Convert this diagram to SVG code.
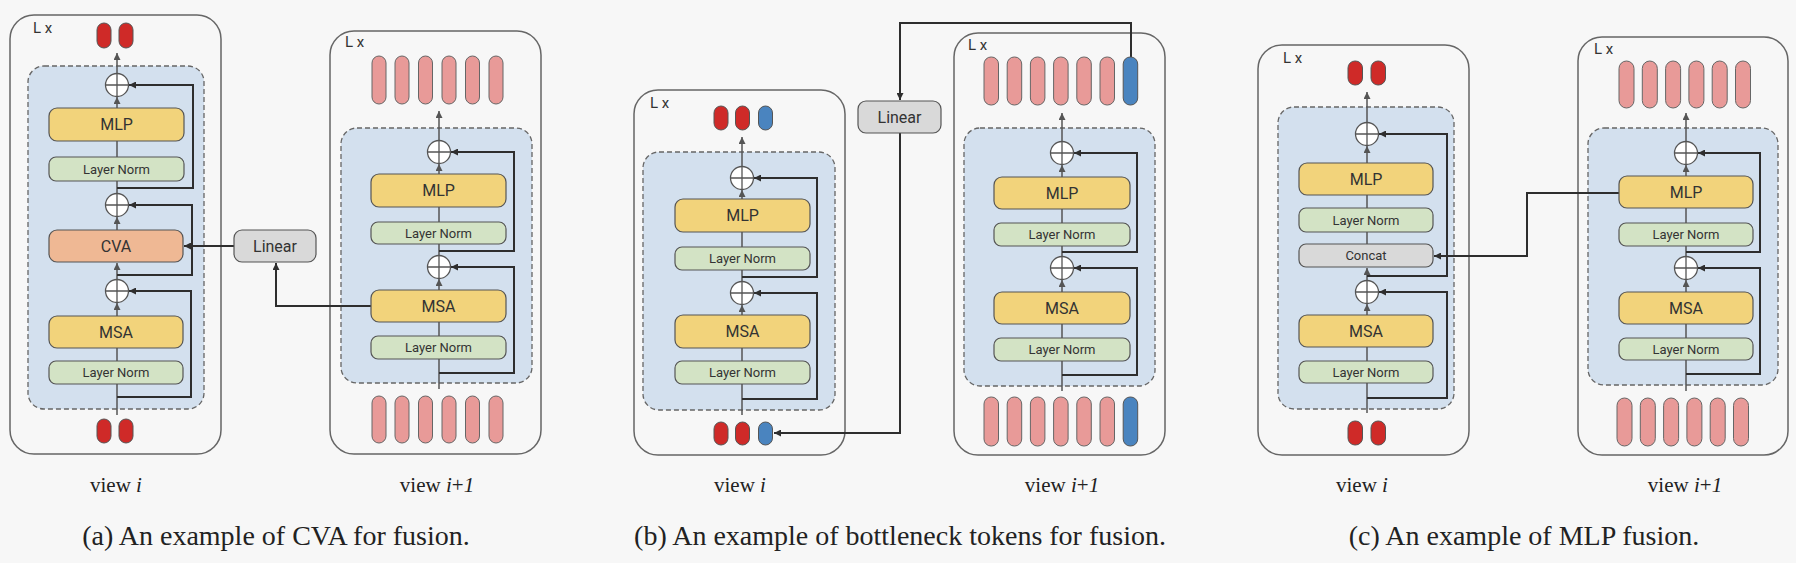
<svg xmlns="http://www.w3.org/2000/svg" width="1796" height="563" viewBox="0 0 1796 563">
<style>
.outer{fill:none;stroke:#666;stroke-width:1.5}
.inner{fill:#d3e0ee;stroke:#666;stroke-width:1.3;stroke-dasharray:5 3}
.mod{stroke:#555;stroke-width:1.2}
.y{fill:#f2d37b}
.g{fill:#d3e3c5}
.o{fill:#efb894}
.gr{fill:#d9d9d9}
.red{fill:#cf2a28;stroke:#555;stroke-width:1}
.pink{fill:#e89a98;stroke:#666;stroke-width:1}
.blue{fill:#4a84bf;stroke:#555;stroke-width:1}
.lbl{font-family:Roboto,"Liberation Sans",sans-serif;fill:#333;text-anchor:middle;dominant-baseline:central}
.big{font-size:16px}
.sm{font-size:13px}
.lx{font-family:Roboto,"Liberation Sans",sans-serif;fill:#333;font-size:15px}
.cap{font-family:"Liberation Serif",serif;fill:#222;text-anchor:middle}
.main{fill:none;stroke:#555;stroke-width:1.5;marker-end:url(#ah)}
.skip{fill:none;stroke:#2e2e2e;stroke-width:2;marker-end:url(#ahd)}
</style>
<defs>
<marker id="ah" viewBox="0 0 10 10" refX="10" refY="5" markerWidth="7" markerHeight="7" orient="auto" markerUnits="userSpaceOnUse"><path d="M0,0 L10,5 L0,10 z" fill="#555"/></marker>
<marker id="ahd" viewBox="0 0 10 10" refX="10" refY="5" markerWidth="7" markerHeight="7" orient="auto" markerUnits="userSpaceOnUse"><path d="M0,0 L10,5 L0,10 z" fill="#2e2e2e"/></marker>
<g id="plus"><circle cx="0" cy="0" r="11.5" fill="#fff" stroke="#555" stroke-width="1.3"/><path d="M-11.5,0H11.5M0,-11.5V11.5" stroke="#555" stroke-width="1.3"/></g>
</defs>
<rect width="1796" height="563" fill="#f7f7f7"/>

<!-- containers -->
<g id="panel-a-left">
<rect class="outer" x="10" y="15" width="211" height="439" rx="24"/>
<text class="lx" x="33" y="33">L x</text>
<rect class="inner" x="28" y="66" width="176" height="343" rx="16"/>
</g>
<g id="panel-a-right">
<rect class="outer" x="330" y="31" width="211" height="423" rx="24"/>
<text class="lx" x="345" y="47">L x</text>
<rect class="inner" x="341" y="128" width="191" height="255" rx="16"/>
</g>
<g id="panel-b-left">
<rect class="outer" x="634" y="90" width="211" height="365" rx="24"/>
<text class="lx" x="650" y="108">L x</text>
<rect class="inner" x="643" y="152" width="192" height="258" rx="16"/>
</g>
<g id="panel-b-right">
<rect class="outer" x="954" y="33" width="211" height="422" rx="24"/>
<text class="lx" x="968" y="50">L x</text>
<rect class="inner" x="964" y="128" width="191" height="258" rx="16"/>
</g>
<g id="panel-c-left">
<rect class="outer" x="1258" y="45" width="211" height="410" rx="24"/>
<text class="lx" x="1283" y="63">L x</text>
<rect class="inner" x="1278" y="107" width="176" height="302" rx="16"/>
</g>
<g id="panel-c-right">
<rect class="outer" x="1578" y="37" width="210" height="418" rx="24"/>
<text class="lx" x="1594" y="54">L x</text>
<rect class="inner" x="1588" y="128" width="190" height="257" rx="16"/>
</g>

<g id="connectors">
<!-- a left -->
<path class="main" d="M117,415V303"/>
<path class="main" d="M117,280V263"/>
<path class="main" d="M117,230V217"/>
<path class="main" d="M117,194V97"/>
<path class="main" d="M117,74V53"/>
<path class="skip" d="M117,397H191V291H129"/>
<path class="skip" d="M117,275H192V205H129"/>
<path class="skip" d="M117,188H193V85H129"/>
<!-- a right -->
<path class="main" d="M439,389V279"/>
<path class="main" d="M439,256V164"/>
<path class="main" d="M439,141V111"/>
<path class="skip" d="M439,373H514V267H451"/>
<path class="skip" d="M439,251H514V152H451"/>
<path class="skip" d="M371,306H276V263"/>
<path class="skip" d="M234,246H184"/>
<!-- b left -->
<path class="main" d="M742,415V305"/>
<path class="main" d="M742,282V190"/>
<path class="main" d="M742,167V137"/>
<path class="skip" d="M742,399H817V293H754"/>
<path class="skip" d="M742,277H817V178H754"/>
<!-- b right -->
<path class="main" d="M1062,391V280"/>
<path class="main" d="M1062,257V165"/>
<path class="main" d="M1062,142V113"/>
<path class="skip" d="M1062,375H1137V268H1074"/>
<path class="skip" d="M1062,252H1137V153H1074"/>
<path class="skip" d="M1131,57V23H900V100"/>
<path class="skip" d="M900,133V433H774"/>
<!-- c left -->
<path class="main" d="M1367,413V304"/>
<path class="main" d="M1367,281V268"/>
<path class="main" d="M1367,244V146"/>
<path class="main" d="M1367,123V92"/>
<path class="skip" d="M1367,398H1447V292H1379"/>
<path class="skip" d="M1367,276H1447V134H1379"/>
<!-- c right -->
<path class="main" d="M1686,391V280"/>
<path class="main" d="M1686,257V165"/>
<path class="main" d="M1686,142V113"/>
<path class="skip" d="M1686,374H1760V268H1698"/>
<path class="skip" d="M1686,252H1760V153H1698"/>
<path class="skip" d="M1619,193H1527V256H1434"/>
</g>

<!-- panel a left nodes -->
<g id="a-tokens-out"><rect class="red" x="97" y="23" width="14" height="25" rx="7"/><rect class="red" x="119" y="23" width="14" height="25" rx="7"/></g>
<g id="a-add1"><use href="#plus" x="117" y="85"/></g>
<g id="a-mlp"><rect class="mod y" x="49" y="108" width="135" height="33" rx="8"/><text class="lbl big" x="116.5" y="124.5">MLP</text></g>
<g id="a-ln2"><rect class="mod g" x="49" y="157" width="135" height="24" rx="7"/><text class="lbl sm" x="116.5" y="169">Layer Norm</text></g>
<g id="a-add2"><use href="#plus" x="117" y="205"/></g>
<g id="a-cva"><rect class="mod o" x="49" y="230" width="134" height="32" rx="8"/><text class="lbl big" x="116" y="246">CVA</text></g>
<g id="a-add3"><use href="#plus" x="117" y="291"/></g>
<g id="a-msa"><rect class="mod y" x="49" y="316" width="134" height="32" rx="8"/><text class="lbl big" x="116" y="332">MSA</text></g>
<g id="a-ln1"><rect class="mod g" x="49" y="361" width="134" height="23" rx="7"/><text class="lbl sm" x="116" y="372.5">Layer Norm</text></g>
<g id="a-tokens-in"><rect class="red" x="97" y="419" width="14" height="24" rx="7"/><rect class="red" x="119" y="419" width="14" height="24" rx="7"/></g>
<g id="a-linear"><rect class="mod gr" x="234" y="230" width="82" height="32" rx="8"/><text class="lbl big" x="275" y="246">Linear</text></g>

<!-- panel a right nodes -->
<g id="ar-tokens-out"><rect class="pink" x="372" y="56" width="14" height="48" rx="7"/><rect class="pink" x="395" y="56" width="14" height="48" rx="7"/><rect class="pink" x="418.5" y="56" width="14" height="48" rx="7"/><rect class="pink" x="442" y="56" width="14" height="48" rx="7"/><rect class="pink" x="465.5" y="56" width="14" height="48" rx="7"/><rect class="pink" x="489" y="56" width="14" height="48" rx="7"/></g>
<g id="ar-add1"><use href="#plus" x="439" y="152"/></g>
<g id="ar-mlp"><rect class="mod y" x="371" y="174" width="135" height="33" rx="8"/><text class="lbl big" x="438.5" y="190.5">MLP</text></g>
<g id="ar-ln2"><rect class="mod g" x="371" y="222" width="135" height="22" rx="7"/><text class="lbl sm" x="438.5" y="233">Layer Norm</text></g>
<g id="ar-add2"><use href="#plus" x="439" y="267"/></g>
<g id="ar-msa"><rect class="mod y" x="371" y="290" width="135" height="32" rx="8"/><text class="lbl big" x="438.5" y="306">MSA</text></g>
<g id="ar-ln1"><rect class="mod g" x="371" y="336" width="135" height="23" rx="7"/><text class="lbl sm" x="438.5" y="347.5">Layer Norm</text></g>
<g id="ar-tokens-in"><rect class="pink" x="372" y="396" width="14" height="47" rx="7"/><rect class="pink" x="395" y="396" width="14" height="47" rx="7"/><rect class="pink" x="418.5" y="396" width="14" height="47" rx="7"/><rect class="pink" x="442" y="396" width="14" height="47" rx="7"/><rect class="pink" x="465.5" y="396" width="14" height="47" rx="7"/><rect class="pink" x="489" y="396" width="14" height="47" rx="7"/></g>

<!-- panel b left nodes -->
<g id="b-tokens-out"><rect class="red" x="714" y="106" width="14" height="24" rx="7"/><rect class="red" x="735.5" y="106" width="14" height="24" rx="7"/><rect class="blue" x="758.5" y="106" width="14" height="24" rx="7"/></g>
<g id="b-add1"><use href="#plus" x="742" y="178"/></g>
<g id="b-mlp"><rect class="mod y" x="675" y="199" width="135" height="33" rx="8"/><text class="lbl big" x="742.5" y="215.5">MLP</text></g>
<g id="b-ln2"><rect class="mod g" x="675" y="247" width="135" height="23" rx="7"/><text class="lbl sm" x="742.5" y="258.5">Layer Norm</text></g>
<g id="b-add2"><use href="#plus" x="742" y="293"/></g>
<g id="b-msa"><rect class="mod y" x="675" y="315" width="135" height="33" rx="8"/><text class="lbl big" x="742.5" y="331.5">MSA</text></g>
<g id="b-ln1"><rect class="mod g" x="675" y="361" width="135" height="23" rx="7"/><text class="lbl sm" x="742.5" y="372.5">Layer Norm</text></g>
<g id="b-tokens-in"><rect class="red" x="714" y="422" width="14" height="23" rx="7"/><rect class="red" x="735.5" y="422" width="14" height="23" rx="7"/><rect class="blue" x="758.5" y="422" width="14" height="23" rx="7"/></g>
<g id="b-linear"><rect class="mod gr" x="858" y="101" width="83" height="32" rx="8"/><text class="lbl big" x="899.5" y="117">Linear</text></g>

<!-- panel b right nodes -->
<g id="br-tokens-out"><rect class="pink" x="984" y="57" width="14.5" height="48" rx="7"/><rect class="pink" x="1007.2" y="57" width="14.5" height="48" rx="7"/><rect class="pink" x="1030.4" y="57" width="14.5" height="48" rx="7"/><rect class="pink" x="1053.6" y="57" width="14.5" height="48" rx="7"/><rect class="pink" x="1076.8" y="57" width="14.5" height="48" rx="7"/><rect class="pink" x="1100" y="57" width="14.5" height="48" rx="7"/><rect class="blue" x="1123.2" y="57" width="14.5" height="48" rx="7"/></g>
<g id="br-add1"><use href="#plus" x="1062" y="153"/></g>
<g id="br-mlp"><rect class="mod y" x="994" y="177" width="136" height="32" rx="8"/><text class="lbl big" x="1062" y="193">MLP</text></g>
<g id="br-ln2"><rect class="mod g" x="994" y="223" width="136" height="23" rx="7"/><text class="lbl sm" x="1062" y="234.5">Layer Norm</text></g>
<g id="br-add2"><use href="#plus" x="1062" y="268"/></g>
<g id="br-msa"><rect class="mod y" x="994" y="292" width="136" height="32" rx="8"/><text class="lbl big" x="1062" y="308">MSA</text></g>
<g id="br-ln1"><rect class="mod g" x="994" y="338" width="136" height="23" rx="7"/><text class="lbl sm" x="1062" y="349.5">Layer Norm</text></g>
<g id="br-tokens-in"><rect class="pink" x="984" y="397" width="14.5" height="49" rx="7"/><rect class="pink" x="1007.2" y="397" width="14.5" height="49" rx="7"/><rect class="pink" x="1030.4" y="397" width="14.5" height="49" rx="7"/><rect class="pink" x="1053.6" y="397" width="14.5" height="49" rx="7"/><rect class="pink" x="1076.8" y="397" width="14.5" height="49" rx="7"/><rect class="pink" x="1100" y="397" width="14.5" height="49" rx="7"/><rect class="blue" x="1123.2" y="397" width="14.5" height="49" rx="7"/></g>

<!-- panel c left nodes -->
<g id="c-tokens-out"><rect class="red" x="1348" y="61" width="14.5" height="24" rx="7"/><rect class="red" x="1371" y="61" width="14.5" height="24" rx="7"/></g>
<g id="c-add1"><use href="#plus" x="1367" y="134"/></g>
<g id="c-mlp"><rect class="mod y" x="1299" y="163" width="134" height="32" rx="8"/><text class="lbl big" x="1366" y="179">MLP</text></g>
<g id="c-ln2"><rect class="mod g" x="1299" y="208" width="134" height="24" rx="7"/><text class="lbl sm" x="1366" y="220">Layer Norm</text></g>
<g id="c-concat"><rect class="mod gr" x="1299" y="244" width="134" height="23" rx="7"/><text class="lbl sm" x="1366" y="255.5">Concat</text></g>
<g id="c-add2"><use href="#plus" x="1367" y="292"/></g>
<g id="c-msa"><rect class="mod y" x="1299" y="315" width="134" height="32" rx="8"/><text class="lbl big" x="1366" y="331">MSA</text></g>
<g id="c-ln1"><rect class="mod g" x="1299" y="361" width="134" height="22" rx="7"/><text class="lbl sm" x="1366" y="372">Layer Norm</text></g>
<g id="c-tokens-in"><rect class="red" x="1348" y="421" width="14.5" height="24" rx="7"/><rect class="red" x="1371" y="421" width="14.5" height="24" rx="7"/></g>

<!-- panel c right nodes -->
<g id="cr-tokens-out"><rect class="pink" x="1619" y="61" width="15" height="47" rx="7.5"/><rect class="pink" x="1642.3" y="61" width="15" height="47" rx="7.5"/><rect class="pink" x="1665.6" y="61" width="15" height="47" rx="7.5"/><rect class="pink" x="1688.9" y="61" width="15" height="47" rx="7.5"/><rect class="pink" x="1712.2" y="61" width="15" height="47" rx="7.5"/><rect class="pink" x="1735.5" y="61" width="15" height="47" rx="7.5"/></g>
<g id="cr-add1"><use href="#plus" x="1686" y="153"/></g>
<g id="cr-mlp"><rect class="mod y" x="1619" y="176" width="134" height="32" rx="8"/><text class="lbl big" x="1686" y="192">MLP</text></g>
<g id="cr-ln2"><rect class="mod g" x="1619" y="223" width="134" height="23" rx="7"/><text class="lbl sm" x="1686" y="234.5">Layer Norm</text></g>
<g id="cr-add2"><use href="#plus" x="1686" y="268"/></g>
<g id="cr-msa"><rect class="mod y" x="1619" y="292" width="134" height="32" rx="8"/><text class="lbl big" x="1686" y="308">MSA</text></g>
<g id="cr-ln1"><rect class="mod g" x="1619" y="338" width="134" height="22" rx="7"/><text class="lbl sm" x="1686" y="349">Layer Norm</text></g>
<g id="cr-tokens-in"><rect class="pink" x="1617" y="398" width="15" height="48" rx="7.5"/><rect class="pink" x="1640.3" y="398" width="15" height="48" rx="7.5"/><rect class="pink" x="1663.6" y="398" width="15" height="48" rx="7.5"/><rect class="pink" x="1686.9" y="398" width="15" height="48" rx="7.5"/><rect class="pink" x="1710.2" y="398" width="15" height="48" rx="7.5"/><rect class="pink" x="1733.5" y="398" width="15" height="48" rx="7.5"/></g>

<!-- captions -->
<g id="captions">
<text class="cap" x="116" y="492" font-size="21">view <tspan font-style="italic">i</tspan></text>
<text class="cap" x="437" y="492" font-size="21">view <tspan font-style="italic">i</tspan>+<tspan font-style="italic">1</tspan></text>
<text class="cap" x="740" y="492" font-size="21">view <tspan font-style="italic">i</tspan></text>
<text class="cap" x="1062" y="492" font-size="21">view <tspan font-style="italic">i</tspan>+<tspan font-style="italic">1</tspan></text>
<text class="cap" x="1362" y="492" font-size="21">view <tspan font-style="italic">i</tspan></text>
<text class="cap" x="1685" y="492" font-size="21">view <tspan font-style="italic">i</tspan>+<tspan font-style="italic">1</tspan></text>
<text class="cap" x="276" y="545" font-size="28">(a) An example of CVA for fusion.</text>
<text class="cap" x="900" y="545" font-size="28">(b) An example of bottleneck tokens for fusion.</text>
<text class="cap" x="1524" y="545" font-size="28">(c) An example of MLP fusion.</text>
</g>
</svg>
